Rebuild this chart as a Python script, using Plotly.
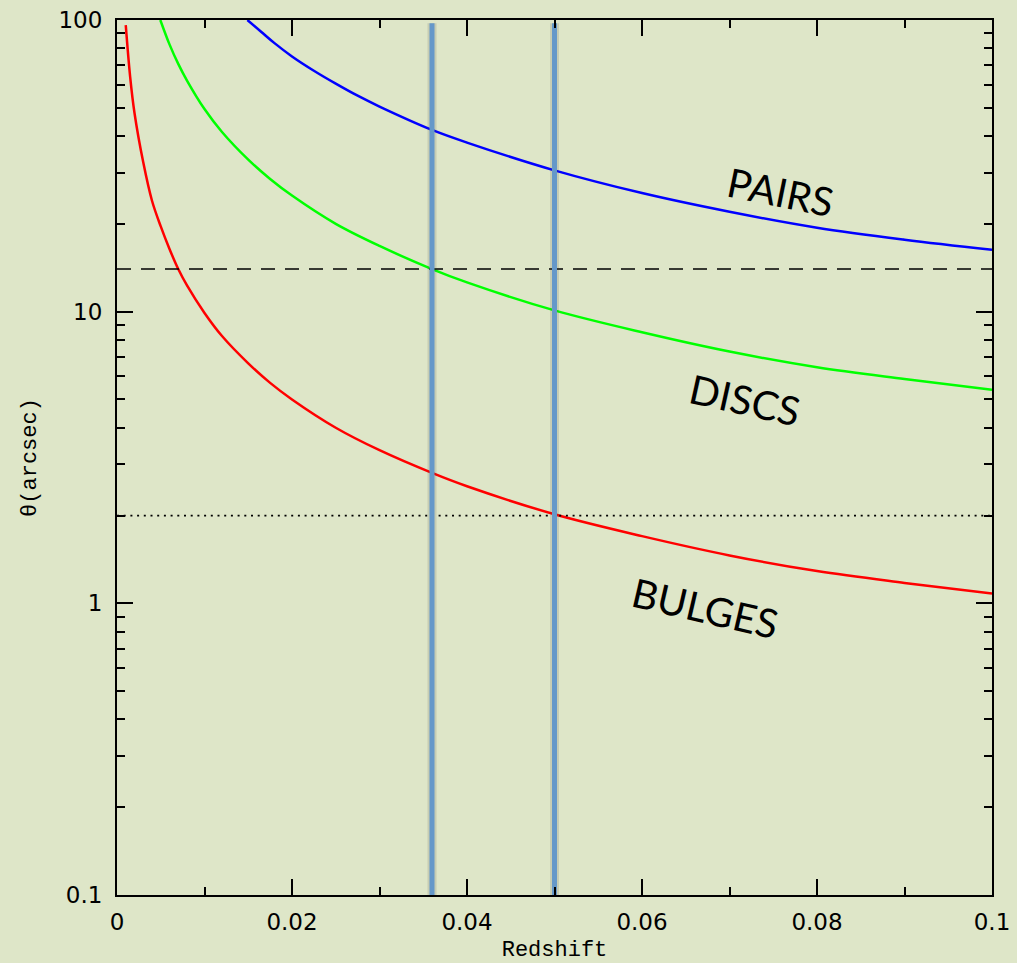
import math
import plotly.graph_objects as go

# Angular size (arcsec) against redshift for three physical scales
z_bulges = [0.001, 0.0015, 0.002, 0.003, 0.004, 0.005, 0.006, 0.007, 0.008, 0.010,
            0.012, 0.015, 0.0175, 0.020, 0.025, 0.030, 0.036, 0.040, 0.050, 0.060,
            0.070, 0.080, 0.090, 0.100]
theta_bulges = [96, 64, 48, 32.5, 24, 19.6, 16.4, 14.0, 12.3, 9.9,
                8.25, 6.65, 5.7, 5.0, 4.0, 3.35, 2.8, 2.52, 2.02, 1.70,
                1.46, 1.29, 1.175, 1.08]

z_discs = [0.00495, 0.006, 0.007, 0.008, 0.010, 0.012, 0.015, 0.0175, 0.020, 0.025,
           0.030, 0.036, 0.040, 0.050, 0.060, 0.070, 0.080, 0.090, 0.100]
theta_discs = [100, 82.5, 70.7, 62, 49.5, 41.3, 33.2, 28.5, 25, 20,
               16.8, 14.0, 12.6, 10.1, 8.5, 7.3, 6.45, 5.88, 5.4]

z_pairs = [0.0149, 0.0165, 0.018, 0.020, 0.0225, 0.025, 0.0275, 0.030, 0.036, 0.040,
           0.050, 0.060, 0.070, 0.080, 0.090, 0.100]
theta_pairs = [100, 91, 83.3, 75, 67, 60.5, 55, 50.5, 42, 38,
               30.5, 25.5, 22, 19.4, 17.65, 16.3]

# Reference levels and redshift markers
dashed_level = 14.0
dotted_level = 2.0
z_markers = [0.036, 0.050]
marker_span = [0.1, 97.5]

x_ticks = [0, 0.02, 0.04, 0.06, 0.08, 0.1]
x_ticktext = ["0", "0.02", "0.04", "0.06", "0.08", "0.1"]
x_minor = [0.01, 0.03, 0.05, 0.07, 0.09]
y_ticks = [0.1, 1, 10, 100]
y_ticktext = ["0.1", "1", "10", "100"]
y_minor = [m * d for d in (0.1, 1, 10) for m in range(2, 10)]

labels = ["PAIRS", "DISCS", "BULGES"]
label_z = [0.0758, 0.0718, 0.0672]
label_theta = [25.7, 4.98, 0.964]
label_angle = [11.5, 12.5, 13]

BG = "#dee6c8"
fig = go.Figure()

for zs, ts, col in ((z_bulges, theta_bulges, "#ff0000"),
                    (z_discs, theta_discs, "#00ff00"),
                    (z_pairs, theta_pairs, "#0000ff")):
    fig.add_trace(go.Scatter(x=zs, y=ts, mode="lines",
                             line=dict(color=col, width=2.5, shape="spline",
                                       smoothing=1, simplify=False)))

fig.add_trace(go.Scatter(x=[0, 0.1], y=[dashed_level] * 2, mode="lines",
                         line=dict(color="black", width=1.6, dash="14px,10px")))
fig.add_trace(go.Scatter(x=[0, 0.1], y=[dotted_level] * 2, mode="lines",
                         line=dict(color="black", width=1.8, dash="2px,4.7px")))

for zm in z_markers:
    # soft shadow, then the marker itself
    fig.add_trace(go.Scatter(x=[zm, zm], y=marker_span, mode="lines",
                             line=dict(color="rgba(70,70,60,0.15)", width=9)))
    fig.add_trace(go.Scatter(x=[zm, zm], y=marker_span, mode="lines",
                             line=dict(color="#6598c9", width=5)))

for txt, zx, ty, ang in zip(labels, label_z, label_theta, label_angle):
    # annotation positions on a log axis are given as log10 values
    fig.add_annotation(x=zx, y=math.log10(ty), xref="x", yref="y", text=txt,
                       showarrow=False, textangle=ang,
                       font=dict(family="Lato", size=40, color="black"))

tick_font = dict(family="DejaVu Sans", size=23, color="black")
title_font = dict(family="Liberation Mono", size=22, color="black")

fig.update_xaxes(range=[0, 0.1], tickvals=x_ticks, ticktext=x_ticktext,
                 ticks="inside", ticklen=16, tickwidth=2, tickcolor="black",
                 minor=dict(tickvals=x_minor, ticks="inside", ticklen=8, tickwidth=2,
                            tickcolor="black", showgrid=False),
                 showline=True, linewidth=2, linecolor="black", mirror="allticks",
                 showgrid=False, zeroline=False, tickfont=tick_font, automargin=False,
                 ticklabelstandoff=5,
                 title=dict(text="Redshift", font=title_font, standoff=13))
fig.update_yaxes(type="log", range=[-1, 2], tickvals=y_ticks, ticktext=y_ticktext,
                 ticks="inside", ticklen=16, tickwidth=2, tickcolor="black",
                 minor=dict(tickvals=y_minor, ticks="inside", ticklen=8, tickwidth=2,
                            tickcolor="black", showgrid=False),
                 showline=True, linewidth=2, linecolor="black", mirror="allticks",
                 showgrid=False, zeroline=False, tickfont=tick_font, automargin=False,
                 ticklabelstandoff=8,
                 title=dict(text="θ(arcsec)", font=title_font, standoff=16))

fig.update_layout(width=1017, height=963, showlegend=False,
                  paper_bgcolor=BG, plot_bgcolor=BG,
                  margin=dict(l=117, r=25, t=20, b=68))

fig.write_html("out.html")
